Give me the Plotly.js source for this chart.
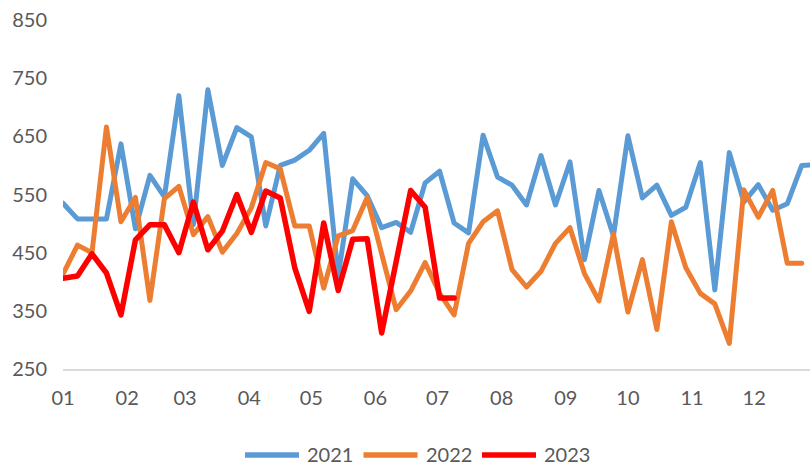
<!DOCTYPE html>
<html>
<head>
<meta charset="utf-8">
<script src="https://cdn.plot.ly/plotly-3.0.1.min.js"></script>
<style>
  html, body { margin: 0; padding: 0; background: #fff; }
  #chart { width: 810px; height: 466px; }
  .scatterlayer path.js-line { stroke-linejoin: round; stroke-linecap: round; }
</style>
</head>
<body>
<div id="chart"></div>
<script>
// ---- data (weekly values, week 1 = first week of January) ----
const seriesNames = ["2021", "2022", "2023"];
const seriesColors = ["#5B9BD5", "#ED7D31", "#FF0000"];
const monthTickLabels = ["01","02","03","04","05","06","07","08","09","10","11","12"];

const values2021 = [535, 508, 508, 508, 637, 491, 583, 546, 720, 498, 730, 600,
                    665, 649, 496, 600, 609, 626, 655, 410, 577, 548, 493, 502,
                    485, 570, 590, 501, 484, 652, 580, 566, 532, 617, 532, 606,
                    438, 557, 479, 651, 544, 566, 514, 528, 605, 386, 622, 537,
                    567, 523, 534, 600, 601];
const values2022 = [413, 463, 450, 666, 503, 545, 368, 543, 564, 481, 512, 451,
                    483, 527, 605, 594, 496, 496, 389, 479, 488, 545, 448, 352,
                    384, 433, 380, 343, 466, 503, 522, 421, 391, 418, 466, 493,
                    414, 367, 482, 348, 438, 318, 503, 424, 380, 362, 294, 558,
                    511, 557, 432, 432];
const values2023 = [406, 410, 448, 415, 343, 472, 498, 498, 450, 537, 455, 487,
                    550, 485, 556, 544, 424, 349, 501, 385, 473, 474, 312, 436,
                    557, 528, 372, 372];

// week index -> date in a common year so the x axis reads months
function weekDates(n) {
  const out = [];
  for (let i = 0; i < n; i++) {
    const d = new Date(Date.UTC(2021, 0, 1 + 7 * i));
    out.push(d.toISOString().slice(0, 10));
  }
  return out;
}

const allValues = [values2021, values2022, values2023];
const lineWidths = [5, 5, 5.5];

const traces = allValues.map((vals, k) => ({
  type: "scatter",
  mode: "lines",
  name: seriesNames[k],
  x: weekDates(vals.length),
  y: vals,
  line: { color: seriesColors[k], width: lineWidths[k] },
  hoverinfo: "x+y+name",
  showlegend: false
}));

const W = 810, H = 466;
const ML = 63, MR = 0, MT = 20, MB = 97;
const PW = W - ML - MR, PH = H - MT - MB;
const px2x = px => (px - ML) / PW;
const py2y = py => (H - MB - py) / PH;

// custom legend (long line samples like the original)
const shapes = [];
const annotations = [];
const legX0 = 243, legStep = 118.5, legLine = 58, legLineY = 455, legTextY = 453.5;
seriesNames.forEach((name, k) => {
  const x0 = legX0 + legStep * k;
  shapes.push({
    type: "line", xref: "paper", yref: "paper",
    x0: px2x(x0 + 2), x1: px2x(x0 + legLine - 2), y0: py2y(legLineY), y1: py2y(legLineY),
    line: { color: seriesColors[k], width: 5.5 }
  });
  annotations.push({
    xref: "paper", yref: "paper", x: px2x(x0 + legLine + 5), y: py2y(legTextY),
    xanchor: "left", yanchor: "middle", showarrow: false, text: name,
    borderpad: 0,
    font: { family: "Lato, 'Open Sans', sans-serif", size: 20, color: "#595959" }
  });
});

const layout = {
  width: W, height: H,
  margin: { l: ML, r: MR, t: MT, b: MB, pad: 0 },
  paper_bgcolor: "#ffffff",
  plot_bgcolor: "#ffffff",
  font: { family: "Lato, 'Open Sans', sans-serif", size: 20, color: "#595959" },
  showlegend: false,
  xaxis: {
    type: "date",
    range: ["2021-01-01", "2021-12-28"],
    tickmode: "array",
    tickvals: monthTickLabels.map((m) => "2021-" + m + "-01"),
    ticktext: monthTickLabels,
    ticks: "",
    ticklabelstandoff: 10,
    showgrid: false,
    zeroline: false,
    showline: true,
    linecolor: "#D9D9D9",
    linewidth: 1.5,
    tickfont: { size: 20, color: "#595959" }
  },
  yaxis: {
    range: [250, 850],
    tick0: 250,
    dtick: 100,
    ticks: "",
    ticklabelstandoff: 15,
    showgrid: false,
    zeroline: false,
    showline: false,
    tickfont: { size: 20, color: "#595959" }
  },
  shapes: shapes,
  annotations: annotations
};

Plotly.newPlot("chart", traces, layout, { displayModeBar: false, staticPlot: true });
</script>
</body>
</html>
